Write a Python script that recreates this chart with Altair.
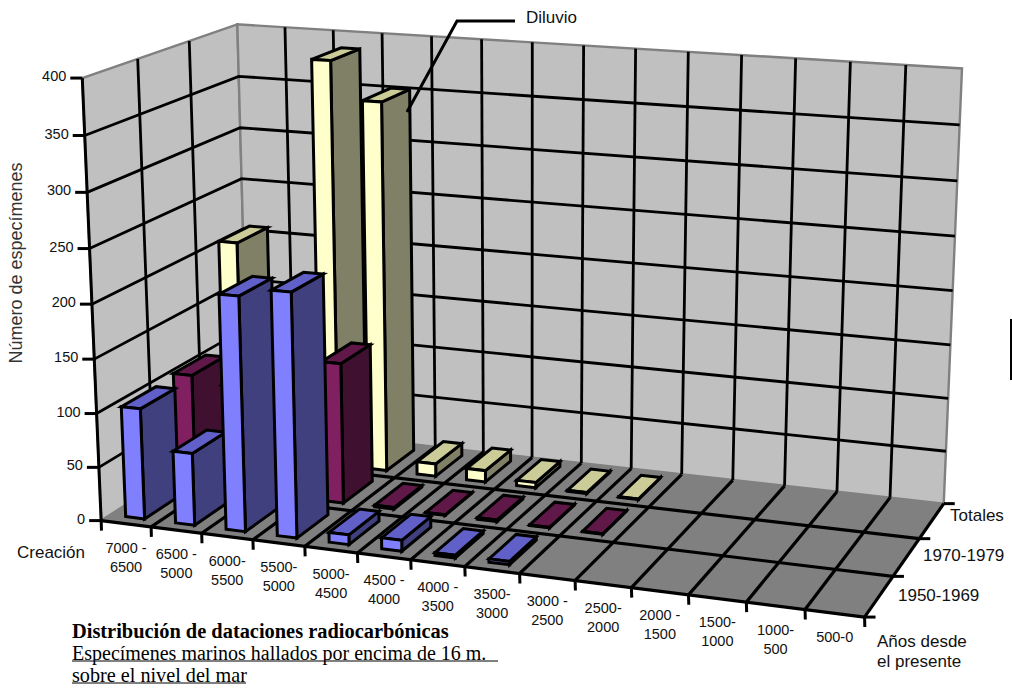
import altair as alt
import numpy as np

# Ages on the x axis, deepest first; each label wraps over two lines.
age_line1 = ["7000 -", "6500 -", "6000-", "5500-", "5000-", "4500 -", "4000 -", "3500-",
             "3000 -", "2500-", "2000 -", "1500-", "1000-", "500-0"]
age_line2 = ["6500", "5000", "5500", "5000", "4500", "4000", "3500", "3000",
             "2500", "2000", "1500", "1000", "500", ""]
series_names = ["1950-1969", "1970-1979", "Totales"]

# Specimen counts per age bin (the first nine bins hold the data).
counts_1950 = [103, 67, 215, 223, 9, 10, 2.5, 3, 0, 0, 0, 0, 0, 0]
counts_1970 = [106, 100, 172, 132, 1.5, 0.5, 1.5, 0.5, 0.5, 0, 0, 0, 0, 0]
counts_total = [208, 160, 387, 352, 12, 11, 5, 1, 0.5, 0, 0, 0, 0, 0]
value_ticks = [0, 50, 100, 150, 200, 250, 300, 350, 400]

front_colors = ["#8080FF", "#802060", "#FFFFCC"]
side_colors = ["#40407F", "#401030", "#808066"]
top_colors = ["#6060C8", "#601848", "#CCCC99"]

W, H = 1012, 691
INK = "#000000"
EDGE = "#808080"
AXIS_FONT = "Liberation Sans"
N_X, N_Z, V_MAX = 14, 3, 400

# Camera: a projective 3x4 matrix solved from where the box corners land on the page.
anchors = [
    ((0, 0, 0), (100, 519)), ((14, 0, 0), (865, 618)), ((14, 3, 0), (943, 503)),
    ((0, 3, 0), (250, 427)), ((0, 0, 400), (84, 79)), ((0, 3, 400), (236, 23)),
    ((14, 3, 400), (962, 69)), ((0, 0, 200), (91, 304)), ((14, 3, 200), (953, 290)),
    ((0, 3, 200), (243, 230)),
]
rows, rhs = [], []
for (x, z, v), (u, w) in anchors:
    p = [x, z, v / 100, 1]
    rows.append(p + [0, 0, 0, 0] + [-u * c for c in p[:3]])
    rhs.append(u)
    rows.append([0, 0, 0, 0] + p + [-w * c for c in p[:3]])
    rhs.append(w)
sol = np.linalg.lstsq(np.array(rows, float), np.array(rhs, float), rcond=None)[0]
CAM = np.append(sol, 1).reshape(3, 4)


def proj(x, z, v):
    q = CAM @ np.array([x, z, v / 100, 1])
    return [round(float(q[0] / q[2]), 2), round(float(q[1] / q[2]), 2)]


def poly(points, fill, stroke=INK, width=3):
    ring = list(points) + [points[0]]
    return {"type": "Feature", "properties": {"fill": fill, "stroke": stroke, "w": width},
            "geometry": {"type": "Polygon", "coordinates": [ring]}}


def line(points, stroke=INK, width=3):
    return {"type": "Feature", "properties": {"fill": "none", "stroke": stroke, "w": width},
            "geometry": {"type": "LineString", "coordinates": list(points)}}


# Box walls and floor.
walls = [
    poly([proj(0, 0, 0), proj(0, 3, 0), proj(0, 3, 400), proj(0, 0, 400)], "#C0C0C0", EDGE, 2.4),
    poly([proj(0, 3, 0), proj(14, 3, 0), proj(14, 3, 400), proj(0, 3, 400)], "#C0C0C0", EDGE, 2.4),
    poly([proj(0, 0, 0), proj(14, 0, 0), proj(14, 3, 0), proj(0, 3, 0)], "#808080", "#808080", 1),
]

# Gridlines on the walls and floor, then the black axis edges and ticks.
grid = []
for v in value_ticks[1:-1]:
    grid.append(line([proj(0, 0, v), proj(0, 3, v), proj(14, 3, v)], width=2.8))
for x in range(1, N_X):
    grid.append(line([proj(x, 3, 0), proj(x, 3, 400)], width=2.8))
    grid.append(line([proj(x, 0, 0), proj(x, 3, 0)], width=3.2))
for z in range(1, N_Z):
    grid.append(line([proj(0, z, 0), proj(0, z, 400)], width=2.8))
    grid.append(line([proj(0, z, 0), proj(14, z, 0)], width=3.2))
grid.append(line([proj(0, 0, 0), proj(0, 0, 400)]))
grid.append(line([proj(0, 0, 0), proj(14, 0, 0)], width=3.2))
grid.append(line([proj(14, 0, 0), proj(14, 3, 0)], width=3.2))
for v in value_ticks:
    a = proj(0, 0, v)
    grid.append(line([a, [a[0] - 12, a[1]]]))
for x in range(N_X + 1):
    a = proj(x, 0, 0)
    grid.append(line([a, [a[0] + 0.3, a[1] + 10]]))
for z in range(N_Z + 1):
    a = proj(14, z, 0)
    grid.append(line([a, [a[0] + 11, a[1]]]))

# Bars: back row first, left to right, so nearer bars paint over farther ones.
BAR_W, BAR_D = 0.19, 0.33
bars = []
for row in (2, 1, 0):
    series = [counts_1950, counts_1970, counts_total][row]
    for i, val in enumerate(series):
        if val <= 0:
            continue
        x0, x1 = i + 0.5 - BAR_W, i + 0.5 + BAR_W
        z0, z1 = row + 0.5 - BAR_D, row + 0.5 + BAR_D
        bars.append(poly([proj(x1, z0, 0), proj(x1, z1, 0), proj(x1, z1, val), proj(x1, z0, val)], side_colors[row]))
        bars.append(poly([proj(x0, z0, val), proj(x1, z0, val), proj(x1, z1, val), proj(x0, z1, val)], top_colors[row]))
        bars.append(poly([proj(x0, z0, 0), proj(x1, z0, 0), proj(x1, z0, val), proj(x0, z0, val)], front_colors[row]))

# Callout for the Totales peak, caption underlines and the short rule at the right edge.
extras = [
    line([[407, 112], [457, 21], [515, 21]]),
    line([[72, 661], [498, 661]], width=1),
    line([[72, 683], [246, 683]], width=1),
    line([[1011, 319], [1011, 380]], width=2),
]

labels = []


def label(text, x, y, size=17, font=AXIS_FONT, align="left", weight="normal", color="#111111"):
    labels.append({"t": text, "x": x, "y": y, "s": size, "f": font, "a": align, "b": weight, "c": color})


for v in value_ticks:
    a = proj(0, 0, v)
    label(str(v), a[0] - 16, a[1] - 1, size=14.5, align="right")
for i in range(N_X):
    a = proj(i + 0.5, 0, 0)
    label(age_line1[i], a[0], a[1] + 25, size=14.5, align="center")
    if age_line2[i]:
        label(age_line2[i], a[0], a[1] + 44, size=14.5, align="center")
label("Creación", 17, 553)
label("Diluvio", 526, 18)
label(series_names[2], 950, 516)
label(series_names[1], 923, 556)
label(series_names[0], 898, 596)
label("Años desde", 877, 642)
label("el presente", 877, 662)
label("Distribución de dataciones radiocarbónicas", 72, 632, size=20.4, font="Liberation Serif", weight="bold", color="#000000")
label("Especímenes marinos hallados por encima de 16 m.", 72, 654, size=20, font="Liberation Serif", color="#000000")
label("sobre el nivel del mar", 72, 676, size=20.2, font="Liberation Serif", color="#000000")


def shapes(features, filled=True):
    mark = alt.Chart(alt.Data(values=features)).mark_geoshape(filled=filled, strokeJoin="miter", strokeCap="butt")
    enc = {
        "stroke": alt.Stroke("properties.stroke:N", scale=None),
        "strokeWidth": alt.StrokeWidth("properties.w:Q", scale=None),
    }
    if filled:
        enc["fill"] = alt.Fill("properties.fill:N", scale=None)
    return mark.encode(**enc).project(type="identity", scale=1, translate=[0, 0])


def text_layer(rows_in, font, align, weight):
    subset = [r for r in rows_in if r["f"] == font and r["a"] == align and r["b"] == weight]
    return alt.Chart(alt.Data(values=subset)).mark_text(
        baseline="middle", font=font, align=align, fontWeight=weight
    ).encode(
        x=alt.X("x:Q", scale=None),
        y=alt.Y("y:Q", scale=None),
        text="t:N",
        size=alt.Size("s:Q", scale=None),
        color=alt.Color("c:N", scale=None),
    )


axis_title = alt.Chart(alt.Data(values=[{"t": "Número de especímenes", "x": 17, "y": 263}])).mark_text(
    angle=270, baseline="middle", align="center", font=AXIS_FONT, fontSize=18, color="#333333"
).encode(x=alt.X("x:Q", scale=None), y=alt.Y("y:Q", scale=None), text="t:N")

styles = sorted({(r["f"], r["a"], r["b"]) for r in labels})
chart = alt.layer(
    shapes(walls),
    shapes(grid, filled=False),
    shapes(bars),
    shapes(extras, filled=False),
    axis_title,
    *[text_layer(labels, *s) for s in styles],
).properties(
    width=W, height=H, background="white", padding=0, autosize=alt.AutoSizeParams(type="none")
).configure_view(stroke=None)

chart.save("out.html", embed_options={"renderer": "svg", "actions": False})
